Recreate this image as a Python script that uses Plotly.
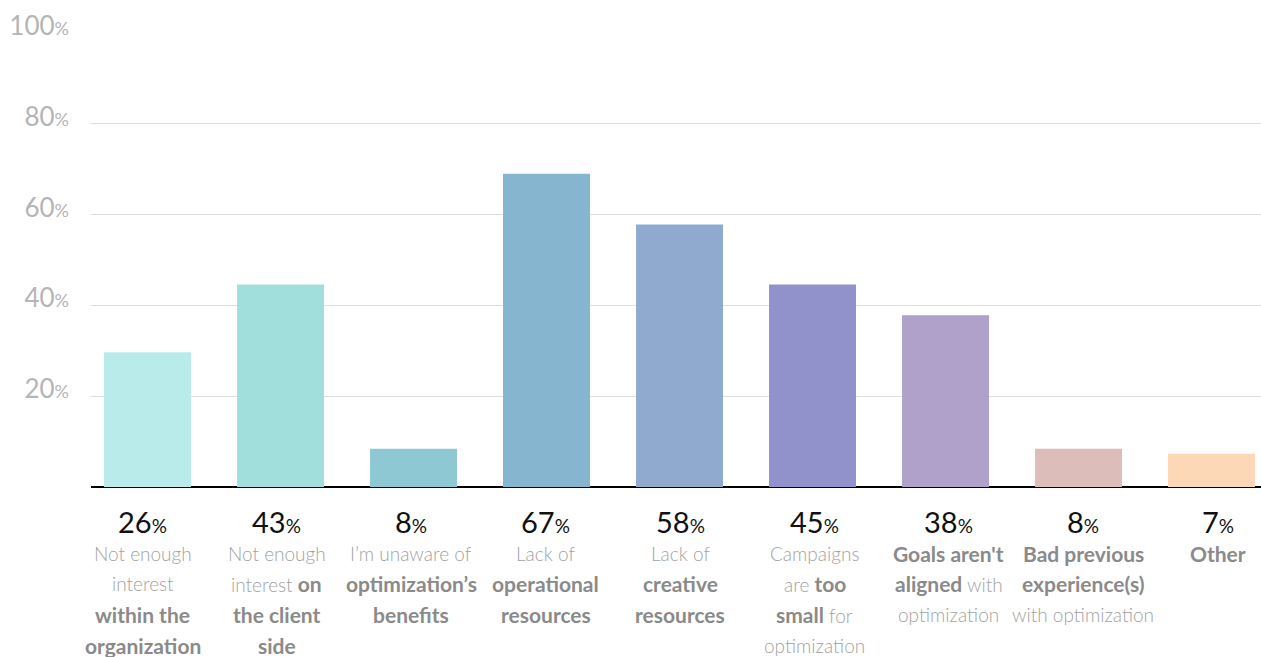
import plotly.graph_objects as go

# ---- data ----
bar_values = [29.7, 44.6, 8.4, 69.0, 57.8, 44.6, 37.8, 8.4, 7.3]
pct_labels = [26, 43, 8, 67, 58, 45, 38, 8, 7]
cat_lines = [
    ["Not enough", "interest", "<b>within the</b>", "<b>organization</b>"],
    ["Not enough", "interest <b>on</b>", "<b>the client</b>", "<b>side</b>"],
    ["I’m unaware of", "<b>optimization’s</b>", "<b>benefits</b>"],
    ["Lack of", "<b>operational</b>", "<b>resources</b>"],
    ["Lack of", "<b>creative</b>", "<b>resources</b>"],
    ["Campaigns", "are <b>too</b>", "<b>small</b> for", "optimization"],
    ["<b>Goals aren't</b>", "<b>aligned</b> with", "optimization"],
    ["<b>Bad previous</b>", "<b>experience(s)</b>", "with optimization"],
    ["<b>Other</b>"],
]
colors = ["#b9ebea", "#a1dfdc", "#8ec9d3", "#86b5cf", "#8fa9cf",
          "#9192cc", "#b0a1cb", "#dcbdb9", "#fdd8b7"]
y_ticks = [20, 40, 60, 80, 100]

FONT = "Lato"
W, H = 1261, 657
top_m = 32
base_py = 487
bot_m = H - base_py
plot_h = base_py - top_m
BAR_STEP = 133.0
TXT_STEP = 134.4

x = list(range(len(bar_values)))

fig = go.Figure()
fig.add_trace(go.Bar(
    x=x, y=bar_values, marker=dict(color=colors, line=dict(width=0)),
    width=0.654, hoverinfo="skip",
))

def py_to_paper(py):
    return (base_py - py) / plot_h

ann = []
for i, (p, lines) in enumerate(zip(pct_labels, cat_lines)):
    tx = (-5.0 + (TXT_STEP - BAR_STEP) * i) / BAR_STEP + i
    ann.append(dict(
        x=tx, xref="x", y=py_to_paper(521), yref="paper",
        text=f"{p}<span style='font-size:19px'>%</span>",
        showarrow=False, xanchor="center", yanchor="middle",
        font=dict(family=FONT, size=29, color="#111111"),
    ))
    for k, line in enumerate(lines):
        t = line.replace("<b>", "<span style='font-weight:bold;color:#8a8a8a;font-size:21px'>").replace("</b>", "</span>")
        ann.append(dict(
            x=tx, xref="x", y=py_to_paper(553 + 30.7 * k), yref="paper",
            text=t, showarrow=False, xanchor="center", yanchor="middle",
            font=dict(family=FONT, size=19, color="#a2a2a2", weight=300),
        ))

fig.update_layout(
    width=W, height=H,
    margin=dict(l=91, r=0, t=top_m, b=bot_m),
    paper_bgcolor="white", plot_bgcolor="white",
    showlegend=False,
    annotations=ann,
)
fig.update_xaxes(range=[-0.425, 8.372], showticklabels=False, showgrid=False,
                 zeroline=False, showline=False, ticks="")
fig.update_yaxes(
    range=[0, 100.2], tickvals=y_ticks,
    ticktext=[f"{v}<span style='font-size:18px'>%</span>" for v in y_ticks],
    tickfont=dict(family=FONT, size=26, color="#b5b5b5"),
    showgrid=True, gridcolor="#dedede", gridwidth=1,
    zeroline=True, zerolinecolor="#000000", zerolinewidth=2,
    ticks="", ticklabelstandoff=21, ticklabelshift=-7,
    showline=False,
)

fig.write_html(
    "out.html",
    config={"displayModeBar": False},
    post_script="document.body.style.margin='0';document.body.style.overflow='hidden';",
)
